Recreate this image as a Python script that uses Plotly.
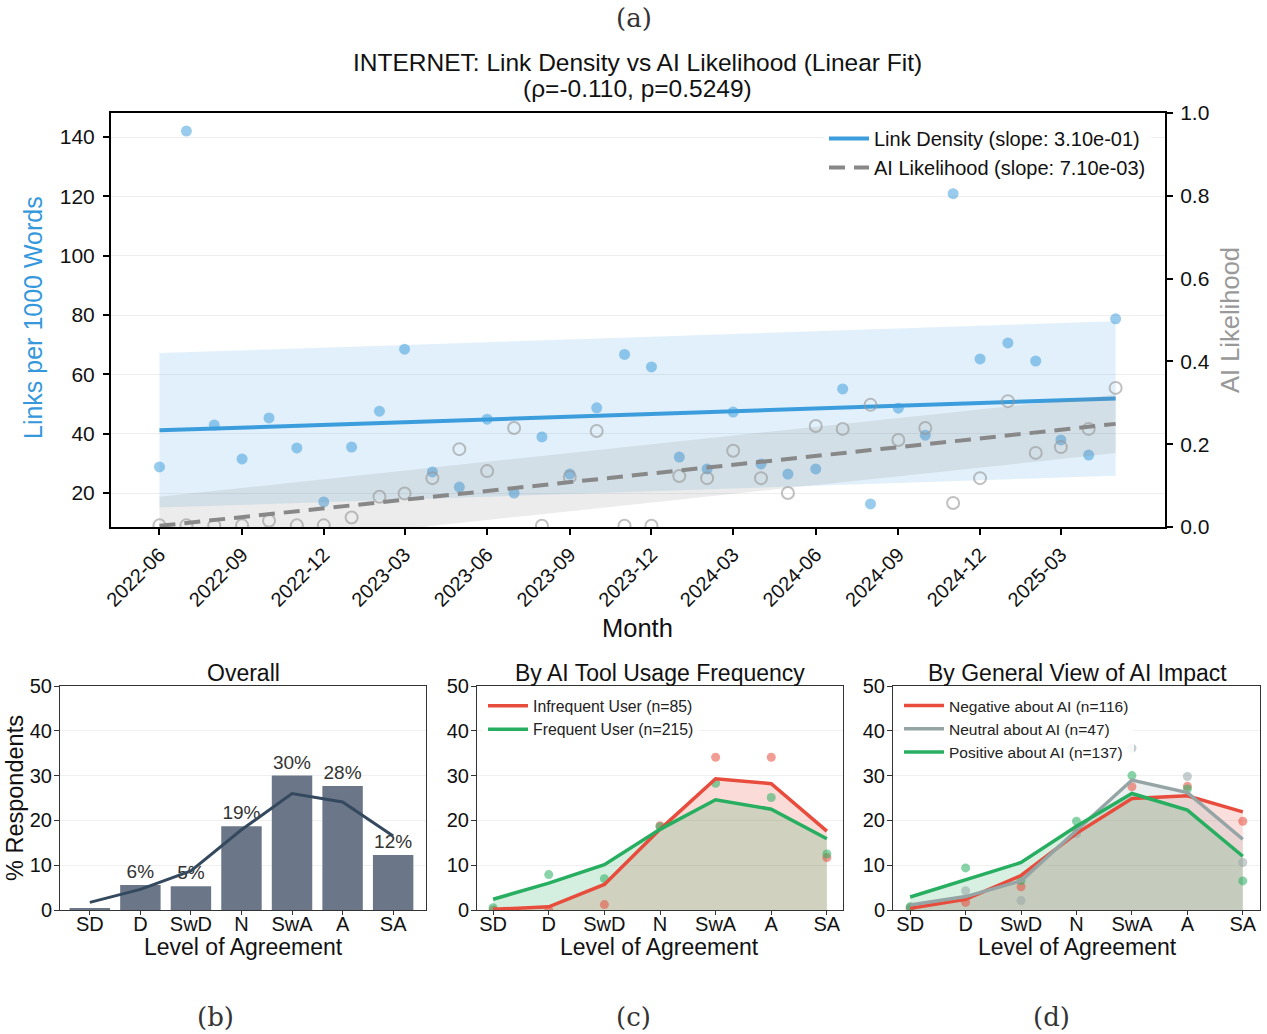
import numpy as np
import plotly.graph_objects as go

# ---------------- data: top panel ----------------
months = ["2022-06-01","2022-07-01","2022-08-01","2022-09-01","2022-10-01","2022-11-01",
          "2022-12-01","2023-01-01","2023-02-01","2023-03-01","2023-04-01","2023-05-01",
          "2023-06-01","2023-07-01","2023-08-01","2023-09-01","2023-10-01","2023-11-01",
          "2023-12-01","2024-01-01","2024-02-01","2024-03-01","2024-04-01","2024-05-01",
          "2024-06-01","2024-07-01","2024-08-01","2024-09-01","2024-10-01","2024-11-01",
          "2024-12-01","2025-01-01","2025-02-01","2025-03-01","2025-04-01","2025-05-01"]
link_density = [28.8, 142.0, 42.9, 31.5, 45.3, 35.2, 17.0, 35.5, 47.6, 68.5, 27.1, 22.0,
                44.9, 20.0, 38.9, 26.4, 48.7, 66.7, 62.5, 32.1, 28.1, 47.3, 29.8, 26.4,
                28.1, 55.1, 16.3, 48.6, 39.5, 120.9, 65.2, 70.6, 64.5, 37.9, 32.8, 78.7]
ai_likelihood = [0.004, 0.004, 0.004, 0.004, 0.015, 0.004, 0.004, 0.023, 0.073, 0.081, 0.118, 0.188,
                 0.135, 0.239, 0.003, 0.121, 0.232, 0.003, 0.003, 0.123, 0.118, 0.184, 0.118, 0.082,
                 0.244, 0.237, 0.295, 0.210, 0.239, 0.058, 0.118, 0.304, 0.179, 0.193, 0.237, 0.336]
month_ticks = months[::3]
legend_link = "Link Density (slope: 3.10e-01)"
legend_ai = "AI Likelihood (slope: 7.10e-03)"
title_line1 = "INTERNET: Link Density vs AI Likelihood (Linear Fit)"
title_line2 = "(ρ=-0.110, p=0.5249)"

# ---------------- data: bottom panels ----------------
levels = ["SD", "D", "SwD", "N", "SwA", "A", "SA"]
overall_pct = [0.4, 5.6, 5.3, 18.7, 30.0, 27.7, 12.3]
overall_trend = [1.7, 4.6, 8.7, 17.9, 26.0, 24.1, 16.5]

infreq_trend = [0.15, 0.7, 5.7, 18.0, 29.3, 28.2, 17.6]
freq_trend = [2.4, 6.0, 10.1, 18.0, 24.6, 22.5, 15.9]
infreq_pts = [0.0, 0.0, 1.2, 18.8, 34.1, 34.1, 11.7]
freq_pts = [0.5, 7.9, 7.0, 18.6, 28.3, 25.1, 12.5]

neg_trend = [0.4, 2.4, 7.7, 17.1, 24.9, 25.5, 21.9]
neu_trend = [1.1, 3.0, 6.5, 17.7, 29.0, 26.2, 15.8]
pos_trend = [2.9, 6.8, 10.6, 18.7, 26.0, 22.3, 12.0]
neg_pts = [0.3, 1.7, 5.2, 18.0, 27.5, 27.6, 19.8]
neu_pts = [0.6, 4.3, 2.1, 17.0, 36.1, 29.8, 10.6]
pos_pts = [0.7, 9.4, 6.6, 19.8, 30.0, 27.0, 6.5]

W, H = 1267, 1034
def px(x): return x / W
def py(y): return 1 - y / H

FONT = "Liberation Sans, Arial, Helvetica, sans-serif"
SERIF = "DejaVu Serif, Liberation Serif, serif"
BLUE = "#3498db"
RED = "#e74c3c"
GREEN = "#27ae60"
GRAY = "#95a5a6"
SLATE = "#6b7789"

fig = go.Figure()

# ---- top panel fits (derived from data) ----
idx = np.arange(len(months))
ld = np.array(link_density)
ai = np.array(ai_likelihood)
b1, a1 = np.polyfit(idx, ld, 1)
fit1 = a1 + b1 * idx
sd1 = np.std(ld - fit1)
b2, a2 = np.polyfit(idx, ai, 1)
fit2 = a2 + b2 * idx
sd2 = np.std(ai - fit2)

# blue band
fig.add_trace(go.Scatter(x=months, y=fit1 + sd1, mode="lines", line=dict(width=0),
                         showlegend=False, hoverinfo="skip", xaxis="x", yaxis="y"))
fig.add_trace(go.Scatter(x=months, y=fit1 - sd1, mode="lines", line=dict(width=0),
                         fill="tonexty", fillcolor="rgba(52,152,219,0.15)",
                         showlegend=False, hoverinfo="skip", xaxis="x", yaxis="y"))
fig.add_trace(go.Scatter(x=months, y=link_density, mode="markers",
                         marker=dict(color=BLUE, size=11, opacity=0.5),
                         showlegend=False, xaxis="x", yaxis="y"))
fig.add_trace(go.Scatter(x=months, y=fit1, mode="lines", line=dict(color="#3c9ddd", width=4),
                         name=legend_link, legend="legend", legendrank=1, xaxis="x", yaxis="y"))

# gray band on y2
fig.add_trace(go.Scatter(x=months, y=fit2 + sd2, mode="lines", line=dict(width=0),
                         showlegend=False, hoverinfo="skip", xaxis="x", yaxis="y2"))
fig.add_trace(go.Scatter(x=months, y=fit2 - sd2, mode="lines", line=dict(width=0),
                         fill="tonexty", fillcolor="rgba(128,128,128,0.15)",
                         showlegend=False, hoverinfo="skip", xaxis="x", yaxis="y2"))
fig.add_trace(go.Scatter(x=months, y=ai_likelihood, mode="markers",
                         marker=dict(color="rgba(0,0,0,0)", size=12,
                                     line=dict(color="rgba(150,150,150,0.6)", width=2)),
                         showlegend=False, xaxis="x", yaxis="y2"))
fig.add_trace(go.Scatter(x=months, y=fit2, mode="lines",
                         line=dict(color="#888888", width=4, dash="16px,9px"),
                         name=legend_ai, legend="legend", legendrank=2, xaxis="x", yaxis="y2"))

# ---- panel b ----
xs = list(range(len(levels)))
bar_text = [f"{round(v)}%" if v >= 1 else "" for v in overall_pct]
fig.add_trace(go.Bar(x=xs, y=overall_pct, width=0.8, marker=dict(color=SLATE, line=dict(width=0)),
                     text=bar_text, textposition="outside", cliponaxis=False,
                     textfont=dict(size=19, color="#333333", family=FONT),
                     showlegend=False, xaxis="x2", yaxis="y3"))
fig.add_trace(go.Scatter(x=xs, y=overall_trend, mode="lines", line=dict(color="#34495e", width=3),
                         showlegend=False, xaxis="x2", yaxis="y3"))

# ---- panel c ----
def rgba(hexc, a):
    h = hexc.lstrip("#")
    return f"rgba({int(h[0:2],16)},{int(h[2:4],16)},{int(h[4:6],16)},{a})"

groups_c = [(infreq_trend, infreq_pts, RED, "Infrequent User (n=85)"),
            (freq_trend, freq_pts, GREEN, "Frequent User (n=215)")]
for trend, pts, col, name in groups_c:
    fig.add_trace(go.Scatter(x=xs, y=trend, mode="lines", line=dict(width=0),
                             fill="tozeroy", fillcolor=rgba(col, 0.2),
                             showlegend=False, hoverinfo="skip", xaxis="x3", yaxis="y4"))
for trend, pts, col, name in groups_c:
    fig.add_trace(go.Scatter(x=xs, y=pts, mode="markers",
                             marker=dict(color=col, size=9, opacity=0.55),
                             showlegend=False, xaxis="x3", yaxis="y4"))
for k, (trend, pts, col, name) in enumerate(groups_c):
    fig.add_trace(go.Scatter(x=xs, y=trend, mode="lines", line=dict(color=col, width=3.5),
                             name=name, legend="legend2", legendrank=k + 1, xaxis="x3", yaxis="y4"))

# ---- panel d ----
groups_d = [(neg_trend, neg_pts, RED, "Negative about AI (n=116)"),
            (neu_trend, neu_pts, GRAY, "Neutral about AI (n=47)"),
            (pos_trend, pos_pts, GREEN, "Positive about AI (n=137)")]
for trend, pts, col, name in groups_d:
    fig.add_trace(go.Scatter(x=xs, y=trend, mode="lines", line=dict(width=0),
                             fill="tozeroy", fillcolor=rgba(col, 0.18),
                             showlegend=False, hoverinfo="skip", xaxis="x4", yaxis="y5"))
for trend, pts, col, name in groups_d:
    fig.add_trace(go.Scatter(x=xs, y=pts, mode="markers",
                             marker=dict(color=col, size=9, opacity=0.55),
                             showlegend=False, xaxis="x4", yaxis="y5"))
for k, (trend, pts, col, name) in enumerate(groups_d):
    fig.add_trace(go.Scatter(x=xs, y=trend, mode="lines", line=dict(color=col, width=3.5),
                             name=name, legend="legend3", legendrank=k + 1, xaxis="x4", yaxis="y5"))

# ---------------- layout ----------------
top_y = [py(527), py(113)]
bot_y = [py(910), py(686)]
tickf = dict(family=FONT, size=21, color="#111111")
tickf_b = dict(family=FONT, size=20, color="#111111")

def bottom_x(dom, rng, anchor):
    return dict(domain=dom, range=rng, tickmode="array", tickvals=xs, ticktext=levels,
                anchor=anchor, automargin=False, ticklabelstandoff=-8,
                showline=True, linecolor="#333333", linewidth=1, mirror=True,
                ticks="outside", ticklen=4, tickcolor="#333333", showgrid=False,
                zeroline=False, tickfont=tickf_b, fixedrange=True)

def bottom_y(anchor):
    return dict(domain=bot_y, range=[0, 50], dtick=10, anchor=anchor, automargin=False,
                ticklabelstandoff=-2,
                showline=True, linecolor="#333333", linewidth=1, mirror=True,
                ticks="outside", ticklen=5, tickcolor="#333333",
                showgrid=True, gridcolor="#f0f0f0", gridwidth=1, zeroline=False,
                tickfont=tickf_b)

fig.update_layout(
    width=W, height=H, margin=dict(l=0, r=0, t=0, b=0, pad=0, autoexpand=False),
    paper_bgcolor="white", plot_bgcolor="white",
    font=dict(family=FONT, color="#111111"),
    bargap=0.2,
    xaxis=dict(domain=[px(111), px(1165)], type="date", automargin=False,
               range=["2022-04-08", "2025-06-25"],
               tickmode="array", tickvals=month_ticks, tickformat="%Y-%m", tickangle=-45,
               tickfont=dict(family=FONT, size=20, color="#111111"),
               showline=True, linecolor="black", linewidth=2, mirror=True,
               ticks="outside", ticklen=6, tickcolor="black", tickwidth=1.5,
               showgrid=False, zeroline=False, anchor="y"),
    yaxis=dict(domain=top_y, range=[8.54, 148.1], tickvals=[20, 40, 60, 80, 100, 120, 140],
               automargin=False, ticklabelstandoff=4,
               showline=True, linecolor="black", linewidth=2, mirror=False,
               ticks="outside", ticklen=6, tickcolor="black", tickwidth=1.5,
               showgrid=True, gridcolor="#eeeeee", zeroline=False, tickfont=tickf, anchor="x"),
    yaxis2=dict(overlaying="y", side="right", range=[0, 1], tickvals=[0, 0.2, 0.4, 0.6, 0.8, 1.0],
                automargin=False, ticklabelstandoff=3,
                tickformat=".1f", showline=True, linecolor="black", linewidth=2,
                ticks="outside", ticklen=6, tickcolor="black", tickwidth=1.5,
                showgrid=False, zeroline=False, tickfont=tickf, anchor="x"),
    xaxis2=bottom_x([px(60), px(426)], [-0.59, 6.65], "y3"),
    yaxis3=bottom_y("x2"),
    xaxis3=bottom_x([px(477), px(843)], [-0.29, 6.29], "y4"),
    yaxis4=bottom_y("x3"),
    xaxis4=bottom_x([px(893), px(1260)], [-0.31, 6.31], "y5"),
    yaxis5=bottom_y("x4"),
    legend=dict(x=px(1151), y=py(119), xanchor="right", yanchor="top", traceorder="normal",
                bgcolor="rgba(255,255,255,0.85)", borderwidth=0,
                font=dict(family=FONT, size=20, color="#111111"), tracegroupgap=0,
                itemwidth=40),
    legend2=dict(x=px(483), y=py(689), xanchor="left", yanchor="top", traceorder="normal",
                 bgcolor="rgba(255,255,255,0.85)", borderwidth=0,
                 font=dict(family=FONT, size=15.8, color="#222222"), itemwidth=40),
    legend3=dict(x=px(899), y=py(689), xanchor="left", yanchor="top", traceorder="normal",
                 bgcolor="rgba(255,255,255,0.85)", borderwidth=0,
                 font=dict(family=FONT, size=15.5, color="#222222"), itemwidth=40),
)

ann = []
def A(text, x, y, size, color="#111111", family=FONT, angle=0):
    ann.append(dict(text=text, x=px(x), y=py(y), xref="paper", yref="paper",
                    showarrow=False, xanchor="center", yanchor="middle",
                    font=dict(family=family, size=size, color=color), textangle=angle))

A("(a)", 634, 18, 26, "#333333", SERIF)
A("(b)", 215, 1017, 26, "#333333", SERIF)
A("(c)", 633, 1017, 26, "#333333", SERIF)
A("(d)", 1051, 1017, 26, "#333333", SERIF)
A(title_line1, 637, 62, 24.5)
A(title_line2, 637, 89, 24.5)
A("Month", 637, 628, 25.5)
A("Links per 1000 Words", 33, 318, 25, BLUE, angle=-90)
A("AI Likelihood", 1230, 320, 25.5, "#999999", angle=-90)
A("Overall", 243, 673, 23)
A("By AI Tool Usage Frequency", 660, 673, 23)
A("By General View of AI Impact", 1077, 673, 23)
A("% Respondents", 15, 798, 23.5, angle=-90)
A("Level of Agreement", 243, 947, 23)
A("Level of Agreement", 660, 947, 23)
A("Level of Agreement", 1077, 947, 23)
fig.update_layout(annotations=ann)

fig.write_html("out.html")
